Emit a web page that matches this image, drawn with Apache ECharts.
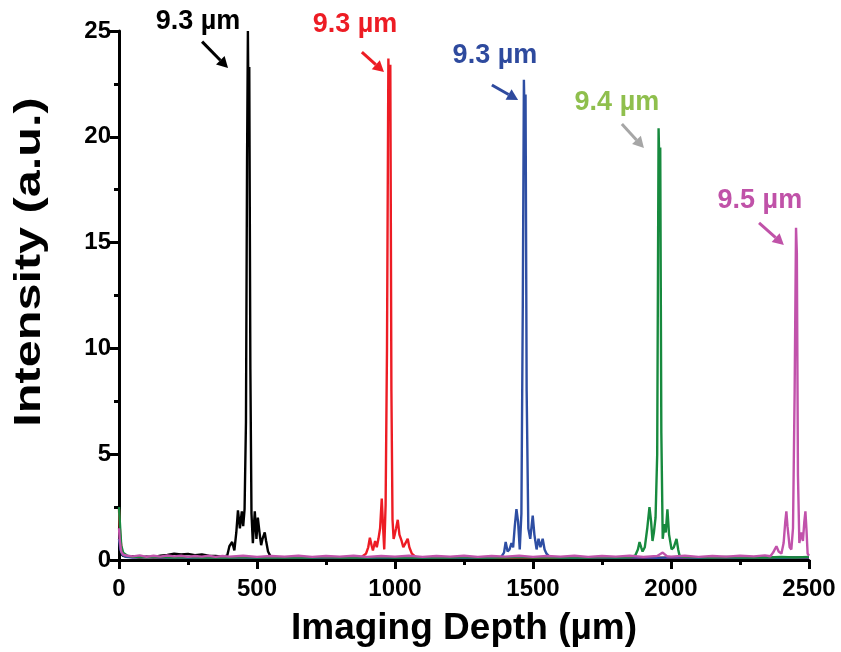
<!DOCTYPE html>
<html>
<head>
<meta charset="utf-8">
<title>Imaging depth</title>
<script src="https://cdn.jsdelivr.net/npm/echarts@6/dist/echarts.min.js"></script>
<style>
html,body{margin:0;padding:0;background:#fff;}
#main{width:841px;height:652px;}
</style>
</head>
<body>
<div id="main"></div>
<script>
// x ticks / y ticks
var xTicks = [0, 500, 1000, 1500, 2000, 2500];
var yTicks = [0, 5, 10, 15, 20, 25];

// [depth (um), intensity]
var blackData = [[0,0.5],[6,0.3],[15,0.2],[30,0.15],[50,0.18],[75,0.12],[100,0.16],[125,0.13],[150,0.2],[175,0.24],[200,0.3],[225,0.26],[250,0.29],[275,0.23],[300,0.26],[325,0.2],[350,0.19],[375,0.16],[392,0.2],[400,0.65],[410,0.85],[418,0.45],[425,1.3],[431,2.35],[438,1.5],[445,2.3],[450,1.6],[455,2.4],[460,6.5],[464,19],[467,25],[469,21.5],[472,23.3],[476,9],[480,2.2],[485,0.8],[492,2.3],[498,1.0],[503,2.0],[510,1.2],[515,0.7],[520,1.0],[528,1.3],[533,0.9],[540,0.4],[550,0.15],[575,0.1],[600,0.12],[650,0.09],[700,0.11],[750,0.08],[800,0.1],[850,0.09],[900,0.11],[950,0.08],[1000,0.1],[1050,0.09],[1100,0.1],[1150,0.08],[1200,0.11],[1250,0.09],[1300,0.1],[1350,0.08],[1400,0.1],[1450,0.09],[1500,0.11],[1550,0.08],[1600,0.1],[1650,0.09],[1700,0.1],[1750,0.08],[1800,0.11],[1850,0.09],[1900,0.1],[1950,0.08],[2000,0.1],[2050,0.09],[2100,0.1],[2150,0.08],[2200,0.11],[2250,0.09],[2300,0.1],[2350,0.08],[2400,0.1],[2450,0.09],[2500,0.1]];
var redData = [[0,2.4],[4,1.2],[10,0.4],[20,0.2],[40,0.15],[75,0.12],[100,0.14],[150,0.1],[200,0.13],[250,0.11],[300,0.12],[350,0.1],[400,0.13],[450,0.11],[500,0.12],[550,0.1],[600,0.13],[650,0.11],[700,0.12],[750,0.1],[800,0.13],[850,0.12],[880,0.15],[895,0.3],[903,0.6],[909,1.05],[915,0.7],[920,0.45],[928,0.9],[934,0.6],[940,1.0],[946,1.5],[952,2.9],[957,1.5],[961,0.5],[966,2.6],[971,10],[976,23.7],[979,21.5],[983,23.4],[987,8],[991,1.9],[995,1.0],[999,1.2],[1004,1.5],[1010,1.9],[1016,1.2],[1024,0.9],[1030,0.6],[1038,0.8],[1046,1.0],[1052,0.6],[1061,0.3],[1075,0.15],[1100,0.12],[1150,0.1],[1200,0.12],[1250,0.11],[1300,0.1],[1350,0.12],[1400,0.1],[1450,0.11],[1500,0.12],[1550,0.1],[1600,0.11],[1650,0.1],[1700,0.12],[1750,0.1],[1800,0.11],[1850,0.12],[1900,0.1],[1950,0.11],[2000,0.1],[2050,0.12],[2100,0.1],[2150,0.11],[2200,0.1],[2250,0.12],[2300,0.1],[2350,0.11],[2400,0.1],[2450,0.12],[2500,0.1]];
var blueData = [[0,1.0],[5,0.5],[12,0.25],[25,0.15],[50,0.12],[100,0.14],[150,0.11],[200,0.13],[250,0.1],[300,0.12],[350,0.11],[400,0.13],[450,0.12],[500,0.1],[550,0.13],[600,0.11],[650,0.12],[700,0.1],[750,0.12],[800,0.11],[850,0.13],[900,0.1],[950,0.12],[1000,0.11],[1050,0.13],[1100,0.1],[1150,0.12],[1200,0.11],[1250,0.1],[1300,0.12],[1350,0.11],[1385,0.15],[1395,0.35],[1401,0.85],[1408,0.4],[1415,0.5],[1422,0.8],[1428,0.6],[1434,1.6],[1440,2.4],[1446,1.8],[1452,0.5],[1458,2.2],[1463,12],[1467,22.7],[1470,20.5],[1473,22],[1477,8],[1483,1.5],[1490,1.0],[1499,2.1],[1505,1.2],[1513,0.5],[1520,1.0],[1527,0.6],[1535,1.0],[1542,0.5],[1549,0.3],[1560,0.15],[1600,0.12],[1650,0.1],[1700,0.12],[1750,0.11],[1800,0.1],[1850,0.12],[1900,0.11],[1950,0.1],[2000,0.12],[2050,0.11],[2100,0.1],[2150,0.12],[2200,0.11],[2250,0.1],[2300,0.12],[2350,0.11],[2400,0.1],[2450,0.12],[2500,0.11]];
var greenData = [[0,2.5],[3,1.8],[8,0.7],[15,0.35],[30,0.2],[50,0.15],[100,0.13],[150,0.15],[200,0.12],[250,0.14],[300,0.11],[350,0.13],[400,0.12],[450,0.14],[500,0.12],[550,0.13],[600,0.11],[650,0.13],[700,0.12],[750,0.14],[800,0.11],[850,0.13],[900,0.12],[950,0.14],[1000,0.12],[1050,0.13],[1100,0.11],[1150,0.13],[1200,0.12],[1250,0.14],[1300,0.11],[1350,0.13],[1400,0.12],[1450,0.14],[1500,0.12],[1550,0.13],[1600,0.11],[1650,0.13],[1700,0.12],[1750,0.14],[1800,0.12],[1850,0.13],[1870,0.2],[1880,0.5],[1886,0.85],[1892,0.6],[1897,0.4],[1905,0.6],[1914,1.5],[1922,2.5],[1928,1.8],[1933,0.9],[1938,1.3],[1944,2.0],[1950,5],[1955,20.4],[1958,18.5],[1961,19.5],[1965,6],[1970,1.0],[1976,1.7],[1981,1.3],[1987,2.4],[1993,1.2],[2002,0.5],[2010,0.6],[2020,1.0],[2026,0.5],[2031,0.2],[2045,0.15],[2100,0.13],[2150,0.12],[2200,0.14],[2250,0.12],[2300,0.13],[2350,0.12],[2400,0.14],[2450,0.12],[2500,0.15]];
var pinkData = [[0,1.5],[3,0.9],[8,0.4],[15,0.25],[30,0.2],[50,0.17],[75,0.22],[100,0.15],[125,0.2],[150,0.16],[175,0.21],[200,0.17],[225,0.2],[250,0.15],[275,0.19],[300,0.16],[325,0.2],[350,0.15],[375,0.19],[400,0.16],[450,0.2],[500,0.15],[550,0.19],[600,0.16],[650,0.2],[700,0.15],[750,0.19],[800,0.16],[850,0.2],[900,0.15],[950,0.19],[1000,0.16],[1050,0.2],[1100,0.15],[1150,0.19],[1200,0.16],[1250,0.2],[1300,0.15],[1350,0.19],[1400,0.16],[1450,0.2],[1500,0.15],[1550,0.19],[1600,0.16],[1650,0.2],[1700,0.15],[1750,0.19],[1800,0.16],[1850,0.2],[1900,0.15],[1950,0.19],[1970,0.35],[1985,0.18],[2000,0.16],[2050,0.2],[2100,0.15],[2150,0.19],[2200,0.16],[2250,0.2],[2300,0.17],[2340,0.22],[2360,0.18],[2370,0.35],[2376,0.5],[2382,0.65],[2390,0.4],[2400,0.3],[2408,0.8],[2414,1.8],[2418,2.3],[2422,1.6],[2430,0.6],[2436,0.5],[2442,1.5],[2448,8],[2453,15.7],[2456,14.5],[2460,4],[2465,0.8],[2472,1.3],[2478,0.9],[2483,1.8],[2487,2.3],[2491,1.4],[2495,0.3],[2500,0.2]];

// annotations: label, text centre, arrow start, arrow end (data units)
var noteText = ['9.3 µm', '9.3 µm', '9.3 µm', '9.4 µm', '9.5 µm'];
var noteAt = [[286, 25.45], [855, 25.3], [1362, 23.85], [1804, 21.6], [2322, 17.0]];
var arrowFrom = [[301, 24.5], [880, 24.0], [1351, 22.45], [1822, 20.6], [2319, 15.93]];
var arrowTo = [[395, 23.25], [960, 23.06], [1446, 21.74], [1902, 19.47], [2409, 14.89]];

var lineColors = ['#000000', '#ed1c24', '#2e4ea3', '#178a3e', '#c152ab'];
var textColors = ['#000000', '#ed1c24', '#2e4a9e', '#8fbf4d', '#c052a8'];
var arrowColors = ['#000000', '#ed1c24', '#2e4a9e', '#a6a6a6', '#c052a8'];

var font = '"Liberation Sans", Arial, sans-serif';
var chart = echarts.init(document.getElementById('main'));

function makeSeries(data, color){
    return {
        type: 'line',
        data: data,
        symbol: 'none',
        smooth: false,
        lineStyle: {color: color, width: 2.4},
        itemStyle: {color: color},
        animation: false
    };
}

var option = {
    animation: false,
    backgroundColor: '#fff',
    grid: {left: 119, right: 32, top: 31, bottom: 92, containLabel: false},
    xAxis: {
        type: 'value',
        min: xTicks[0],
        max: xTicks[xTicks.length - 1],
        interval: 500,
        name: 'Imaging Depth (µm)',
        nameLocation: 'middle',
        nameGap: 50,
        nameTextStyle: {fontFamily: font, fontWeight: 'bold', fontSize: 37, color: '#000'},
        axisLine: {lineStyle: {color: '#000', width: 3}},
        axisTick: {inside: false, length: 9, lineStyle: {color: '#000', width: 3}},
        minorTick: {show: true, splitNumber: 2, length: 5, lineStyle: {color: '#000', width: 3}},
        axisLabel: {fontFamily: font, fontWeight: 'bold', fontSize: 24, color: '#000', margin: 17,
            formatter: function(v){ return String(v); }},
        splitLine: {show: false}
    },
    yAxis: {
        type: 'value',
        min: yTicks[0],
        max: yTicks[yTicks.length - 1],
        interval: 5,
        axisLine: {lineStyle: {color: '#000', width: 3}},
        axisTick: {inside: false, length: 9, lineStyle: {color: '#000', width: 3}},
        minorTick: {show: true, splitNumber: 2, length: 5, lineStyle: {color: '#000', width: 3}},
        axisLabel: {fontFamily: font, fontWeight: 'bold', fontSize: 24, color: '#000', margin: 8,
            formatter: function(v){ return String(v); }},
        splitLine: {show: false}
    },
    series: [
        makeSeries(blackData, lineColors[0]),
        makeSeries(redData, lineColors[1]),
        makeSeries(blueData, lineColors[2]),
        makeSeries(greenData, lineColors[3]),
        makeSeries(pinkData, lineColors[4])
    ]
};
chart.setOption(option);

// labels + arrows placed through the grid's scales
function drawNotes(){
    var els = [];
    // y title, stretched along its length like the original (sits above the axis centre)
    els.push({
        type: 'text', x: 30, y: 262, rotation: Math.PI / 2, scaleX: 1.35,
        style: {text: 'Intensity (a.u.)', fill: '#000', font: 'bold 36px ' + font, align: 'center', verticalAlign: 'middle'}
    });
    for (var i = 0; i < noteText.length; i++) {
        var c = chart.convertToPixel({gridIndex: 0}, noteAt[i]);
        var a = chart.convertToPixel({gridIndex: 0}, arrowFrom[i]);
        var b = chart.convertToPixel({gridIndex: 0}, arrowTo[i]);
        els.push({
            type: 'text', x: c[0], y: c[1], z: 10,
            style: {text: noteText[i], fill: textColors[i], font: 'bold 27px ' + font, align: 'center', verticalAlign: 'middle'}
        });
        var dx = b[0] - a[0], dy = b[1] - a[1];
        var len = Math.sqrt(dx * dx + dy * dy);
        var ux = dx / len, uy = dy / len;
        var hl = 11, hw = 6;
        var bx = b[0] - ux * hl, by = b[1] - uy * hl;
        els.push({
            type: 'line', z: 10,
            shape: {x1: a[0], y1: a[1], x2: bx, y2: by},
            style: {stroke: arrowColors[i], lineWidth: 3}
        });
        els.push({
            type: 'polygon', z: 10,
            shape: {points: [[b[0], b[1]], [bx - uy * hw, by + ux * hw], [bx + uy * hw, by - ux * hw]]},
            style: {fill: arrowColors[i]}
        });
    }
    chart.setOption({graphic: {elements: els}});
}
drawNotes();
</script>
</body>
</html>
